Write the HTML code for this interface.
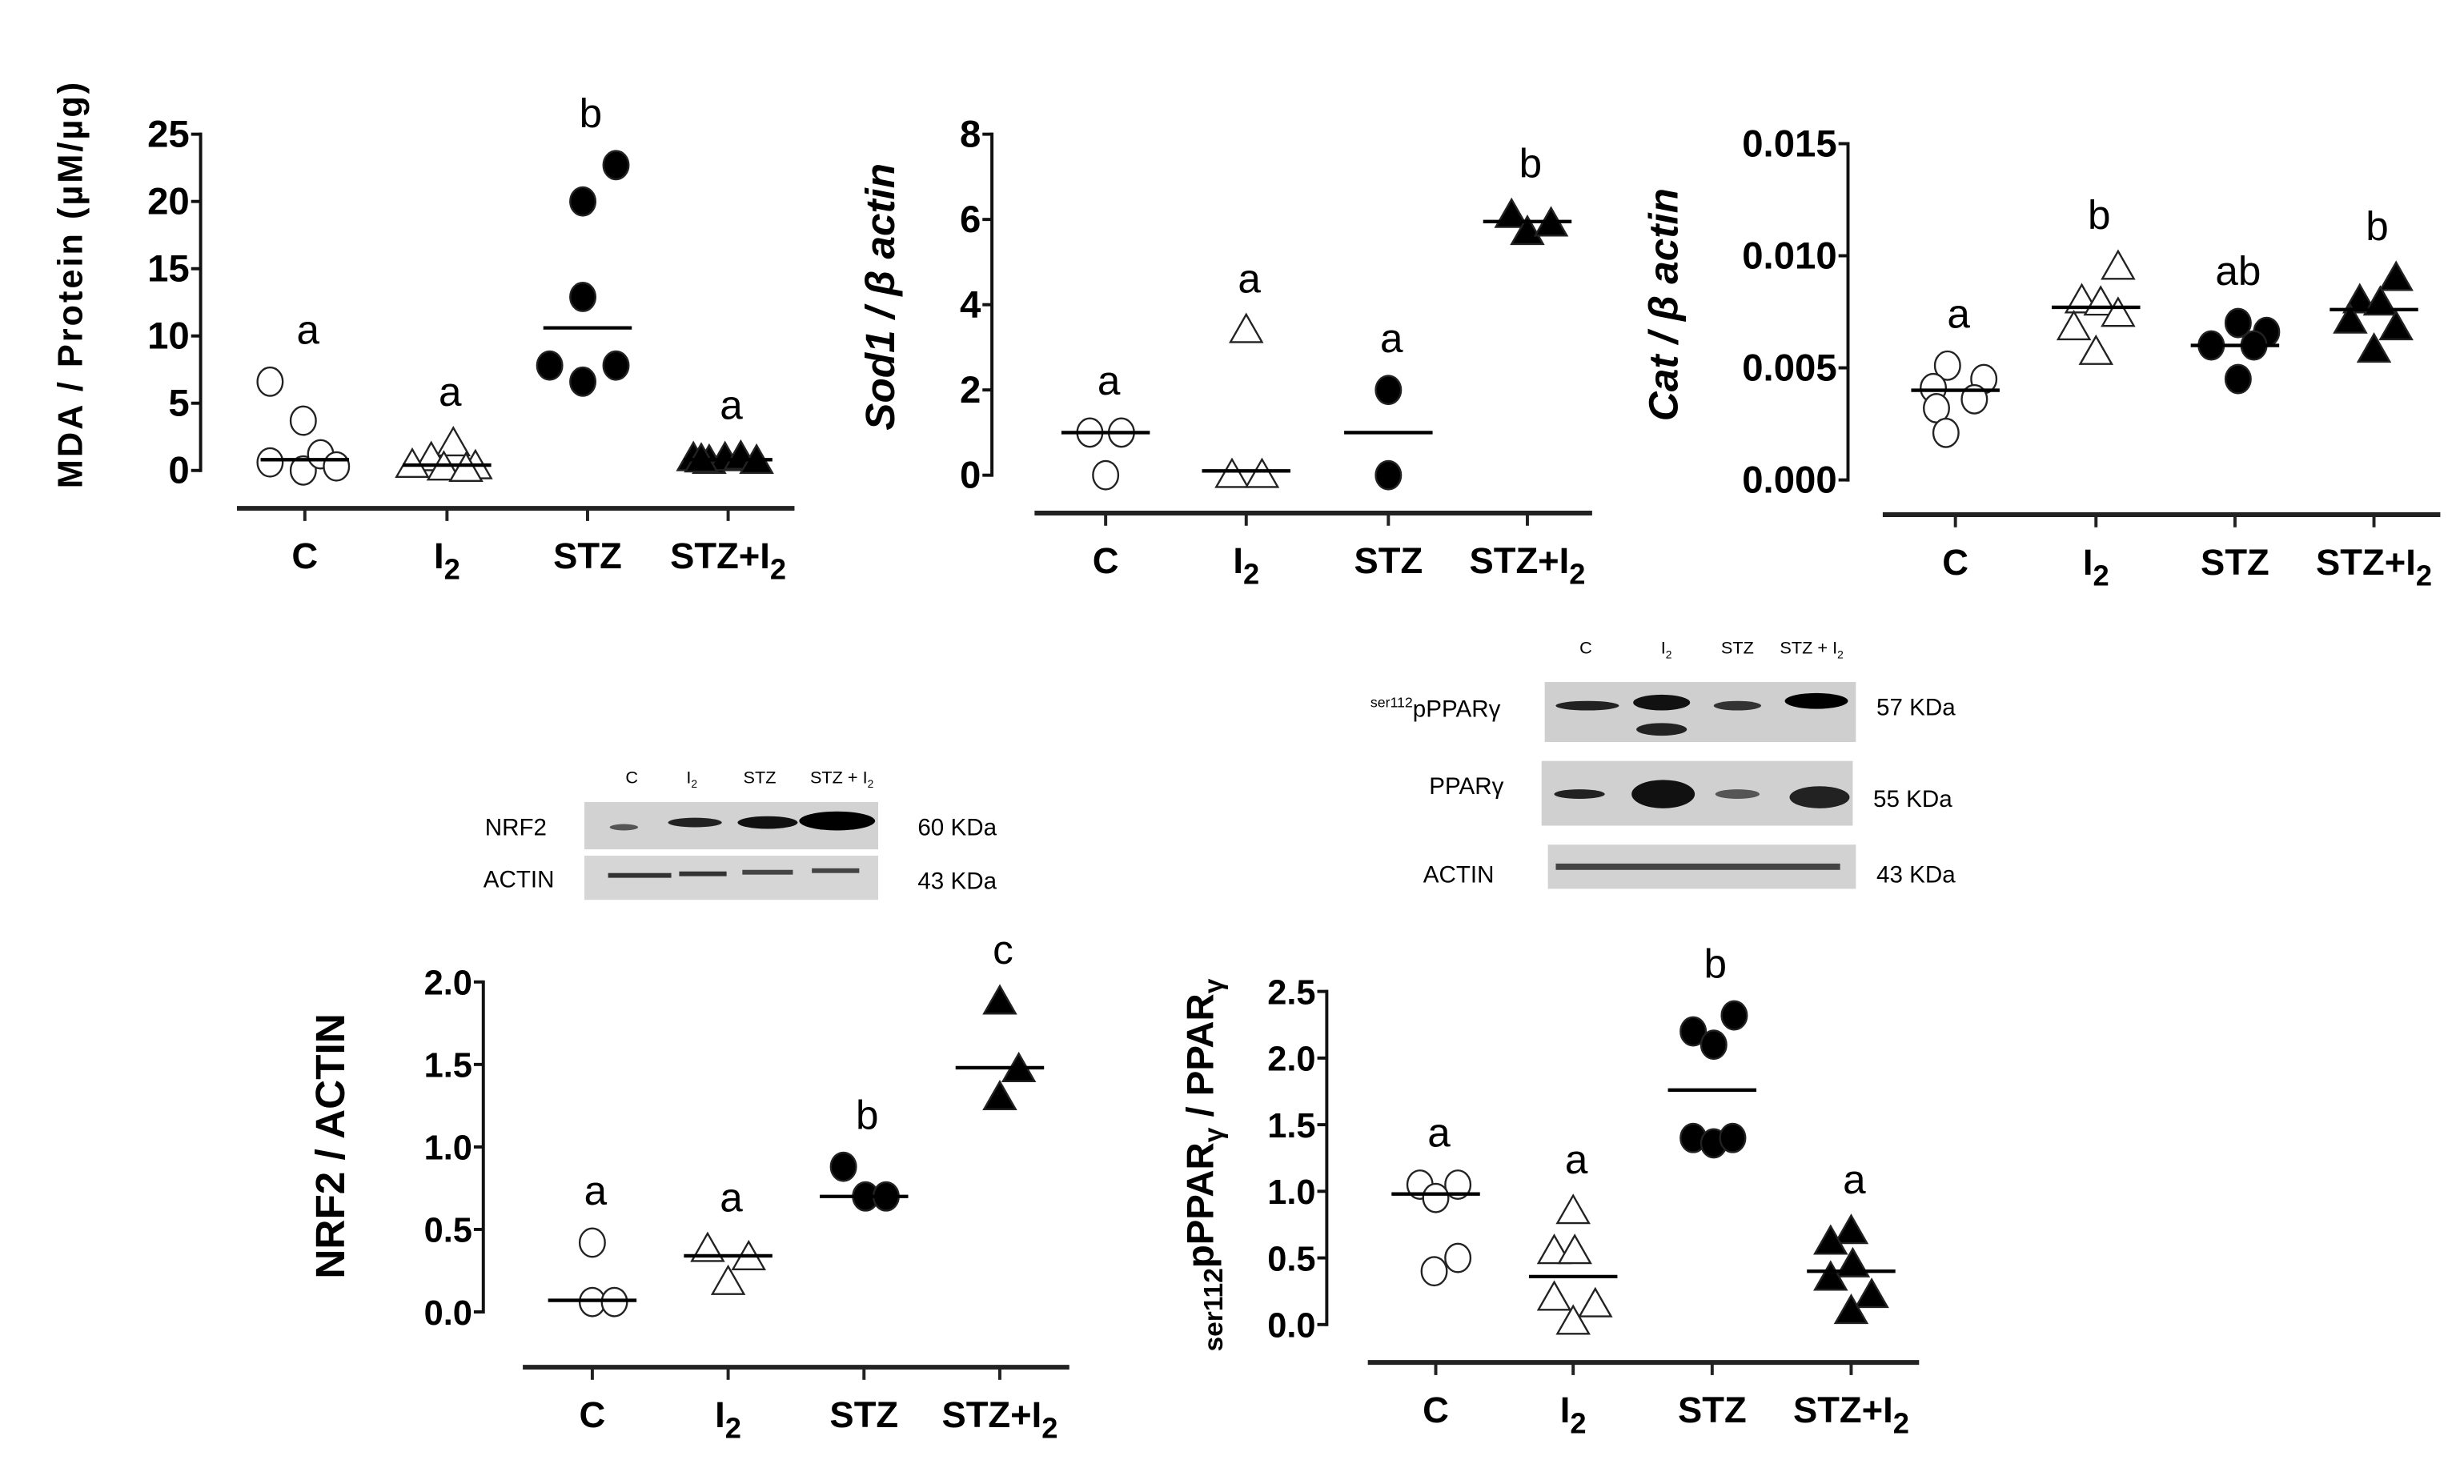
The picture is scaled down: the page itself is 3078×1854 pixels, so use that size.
<!DOCTYPE html>
<html><head><meta charset="utf-8">
<style>
html,body{margin:0;padding:0;background:#fff;}
svg{display:block;}
text{font-family:"Liberation Sans",sans-serif;}
.narrow{font-family:"Liberation Sans Narrow","Liberation Sans",sans-serif;}
</style></head>
<body>
<svg id="fig" width="3078" height="1854" viewBox="0 0 1560 940" preserveAspectRatio="none" xmlns="http://www.w3.org/2000/svg">
<g id="blots">
  <g>
    <text x="400" y="496" font-size="11" text-anchor="middle" class="narrow">C</text>
    <text x="438" y="496" font-size="11" text-anchor="middle" class="narrow">I<tspan font-size="7" dy="3">2</tspan></text>
    <text x="481" y="496" font-size="11" text-anchor="middle" class="narrow">STZ</text>
    <text x="533" y="496" font-size="11" text-anchor="middle" class="narrow">STZ + I<tspan font-size="7" dy="3">2</tspan></text>
    <rect x="370" y="508" width="186" height="30" fill="#d2d2d2"/>
    <ellipse cx="395" cy="524" rx="9" ry="2" fill="#555"/>
    <ellipse cx="440" cy="521" rx="17" ry="3" fill="#222"/>
    <ellipse cx="486" cy="521" rx="19" ry="4" fill="#111"/>
    <ellipse cx="530" cy="520" rx="24" ry="6" fill="#000"/>
    <rect x="370" y="542" width="186" height="28" fill="#d6d6d6"/>
    <rect x="385" y="553" width="40" height="3" fill="#333"/>
    <rect x="430" y="552" width="30" height="3" fill="#333"/>
    <rect x="470" y="551" width="32" height="3" fill="#444"/>
    <rect x="514" y="550" width="30" height="3" fill="#444"/>
    <text x="307" y="529" font-size="15" class="narrow">NRF2</text>
    <text x="306" y="562" font-size="15" class="narrow">ACTIN</text>
    <text x="581" y="529" font-size="15" class="narrow">60 KDa</text>
    <text x="581" y="563" font-size="15" class="narrow">43 KDa</text>
  </g>
  <g>
    <text x="1004" y="414" font-size="11" text-anchor="middle" class="narrow">C</text>
    <text x="1055" y="414" font-size="11" text-anchor="middle" class="narrow">I<tspan font-size="7" dy="3">2</tspan></text>
    <text x="1100" y="414" font-size="11" text-anchor="middle" class="narrow">STZ</text>
    <text x="1147" y="414" font-size="11" text-anchor="middle" class="narrow">STZ + I<tspan font-size="7" dy="3">2</tspan></text>
    <rect x="978" y="432" width="197" height="38" fill="#cfcfcf"/>
    <ellipse cx="1005" cy="447" rx="20" ry="3" fill="#222"/>
    <ellipse cx="1052" cy="445" rx="18" ry="5" fill="#111"/>
    <ellipse cx="1052" cy="462" rx="16" ry="4" fill="#222"/>
    <ellipse cx="1100" cy="447" rx="15" ry="3" fill="#333"/>
    <ellipse cx="1150" cy="444" rx="20" ry="5" fill="#000"/>
    <rect x="976" y="482" width="197" height="41" fill="#d0d0d0"/>
    <ellipse cx="1000" cy="503" rx="16" ry="3" fill="#222"/>
    <ellipse cx="1053" cy="503" rx="20" ry="9" fill="#111"/>
    <ellipse cx="1100" cy="503" rx="14" ry="3" fill="#555"/>
    <ellipse cx="1152" cy="505" rx="19" ry="7" fill="#222"/>
    <rect x="980" y="535" width="195" height="28" fill="#d2d2d2"/>
    <rect x="985" y="547" width="180" height="4" fill="#444"/>
    <text x="950" y="454" font-size="15" text-anchor="end" class="narrow"><tspan font-size="9" dy="-6">ser112</tspan><tspan dy="6">pPPARγ</tspan></text>
    <text x="952" y="503" font-size="15" text-anchor="end" class="narrow">PPARγ</text>
    <text x="946" y="559" font-size="15" text-anchor="end" class="narrow">ACTIN</text>
    <text x="1188" y="453" font-size="15" class="narrow">57 KDa</text>
    <text x="1186" y="511" font-size="15" class="narrow">55 KDa</text>
    <text x="1188" y="559" font-size="15" class="narrow">43 KDa</text>
  </g>
</g>
</svg>
<script>
const categories = ["C", "I2", "STZ", "STZ+I2"];
// MDA / Protein
const mdaValues = [[6.6, 3.7, 0.6, 0.0, 1.2, 0.3], [2.0, 0.9, 0.4, 0.3, 0.2, 0.1], [22.7, 20.0, 12.9, 7.8, 6.6, 7.8], [0.9, 0.7, 0.9, 1.0, 0.7, 0.8]];
const mdaMedians = [0.8, 0.4, 10.6, 0.8];
const mdaLetters = ["a", "a", "b", "a"];
const mdaTicks = [0, 5, 10, 15, 20, 25];
const mdaTickLabels = ["0", "5", "10", "15", "20", "25"];
// Sod1
const sodValues = [[1.0, 1.0, 0.0], [3.4, 0.0, 0.0], [2.0, 0.0], [6.1, 5.7, 5.9]];
const sodMedians = [1.0, 0.1, 1.0, 5.95];
const sodLetters = ["a", "a", "a", "b"];
const sodTicks = [0, 2, 4, 6, 8];
const sodTickLabels = ["0", "2", "4", "6", "8"];
// Cat
const catValues = [[0.0051, 0.0045, 0.0041, 0.0036, 0.0032, 0.0021], [0.0095, 0.0080, 0.0079, 0.0074, 0.0068, 0.0057], [0.0070, 0.0066, 0.0060, 0.0060, 0.0045], [0.0090, 0.0080, 0.0079, 0.0071, 0.0068, 0.0058]];
const catMedians = [0.0040, 0.0077, 0.0060, 0.0076];
const catLetters = ["a", "b", "ab", "b"];
const catTicks = [0, 0.005, 0.010, 0.015];
const catTickLabels = ["0.000", "0.005", "0.010", "0.015"];
// NRF2 / ACTIN
const nrfValues = [[0.42, 0.06, 0.06], [0.38, 0.33, 0.18], [0.88, 0.70, 0.70], [1.88, 1.47, 1.30]];
const nrfMedians = [0.07, 0.34, 0.70, 1.48];
const nrfLetters = ["a", "a", "b", "c"];
const nrfTicks = [0, 0.5, 1.0, 1.5, 2.0];
const nrfTickLabels = ["0.0", "0.5", "1.0", "1.5", "2.0"];
// pPPARg / PPARg
const pparValues = [[1.05, 1.05, 0.95, 0.50, 0.40], [0.85, 0.55, 0.55, 0.20, 0.15, 0.02], [2.32, 2.20, 2.10, 1.40, 1.36, 1.40], [0.70, 0.62, 0.45, 0.35, 0.22, 0.10]];
const pparMedians = [0.98, 0.36, 1.76, 0.40];
const pparLetters = ["a", "a", "b", "a"];
const pparTicks = [0, 0.5, 1.0, 1.5, 2.0, 2.5];
const pparTickLabels = ["0.0", "0.5", "1.0", "1.5", "2.0", "2.5"];

// layout (not data): jitter offsets, panels
const layout = {
  mda: {ax:127, y0:298, y1:85, v1:25, xs:[193,283,372,461], lineY:322, lx0:150, lx1:503, jit:[[-22,-1,-22,-1,10,20],[4,-10,-22,18,-2,12],[18,-3,-3,-24,-3,18],[-22,-12,-2,8,18,-17]], narrow:true, letterOff:24},
  sod: {ax:628, y0:301, y1:85, v1:8, xs:[700,789,879,967], lineY:325, lx0:655, lx1:1008, jit:[[-10,10,0],[0,-9,10],[0,0],[-10,0,15]], narrow:true, letterOff:24},
  cat: {ax:1170, y0:304, y1:91, v1:0.015, xs:[1238,1327,1415,1503], lineY:326, lx0:1192, lx1:1545, jit:[[-5,18,-14,12,-12,-6],[14,-9,3,14,-14,0],[2,20,-15,12,2],[14,-9,4,-15,14,0]], narrow:true, letterOff:24},
  nrf: {ax:306, y0:831, y1:622, v1:2.0, xs:[375,461,547,633], lineY:866, lx0:331, lx1:677, jit:[[0,0,14],[-13,13,0],[-13,1,14],[0,12,0]], narrow:false, letterOff:24},
  ppar: {ax:840, y0:839, y1:628, v1:2.5, xs:[909,996,1084,1172], lineY:863, lx0:866, lx1:1215, jit:[[-10,14,0,14,-1],[0,-12,1,-12,14,0],[14,-12,1,-12,1,13],[0,-13,1,-13,13,0]], narrow:false, letterOff:24}
};
const NS = "http://www.w3.org/2000/svg";
const svg = document.getElementById("fig");
function mk(tag, attrs, parent){ const e=document.createElementNS(NS,tag); for(const k in attrs) e.setAttribute(k,attrs[k]); parent.appendChild(e); return e; }
const shapes = ["open-circle","open-triangle","filled-circle","filled-triangle"];
function marker(g, shape, x, y){
  let e;
  if(shape.indexOf("circle")>=0){ e=mk("ellipse",{cx:x,cy:y,rx:8,ry:9,"stroke-width":1.2,stroke:"#222",fill:shape==="filled-circle"?"#000":"#fff"},g); }
  else { const s=10; e=mk("polygon",{points:`${x},${y-s} ${x-s},${y+s*0.75} ${x+s},${y+s*0.75}`,"stroke-width":1.2,stroke:"#222",fill:shape==="filled-triangle"?"#000":"#fff"},g); }
  return e;
}
function catLabel(g, x, y, name, size){
  const t = mk("text",{x:x,y:y,"font-size":size,"font-weight":"bold","text-anchor":"middle"},g);
  if(name.indexOf("I2")>=0){ t.textContent = name.replace("I2","I"); const s=document.createElementNS(NS,"tspan"); s.setAttribute("font-size",size*0.8); s.setAttribute("dy",size*0.3); s.textContent="2"; t.appendChild(s); }
  else t.textContent = name;
  return t;
}
function drawChart(id, L, values, medians, letters, ticks, tickLabels){
  const g = mk("g",{},svg);
  
  
  const yS = v => L.y0 + (L.y1 - L.y0) * v / L.v1;
  const fam = L.narrow ? '"Liberation Sans Narrow","Liberation Sans",sans-serif' : '"Liberation Sans",sans-serif';
  const ya = mk("line",{x1:L.ax,x2:L.ax,y1:yS(0)+1,y2:yS(ticks[ticks.length-1])-1,stroke:"#111","stroke-width":2},g);
  
  
  ticks.forEach((t,i)=>{
    const y=yS(t);
    mk("line",{x1:L.ax-6,x2:L.ax,y1:y,y2:y,stroke:"#111","stroke-width":2},g);
    const tl = mk("text",{x:L.ax-7,y:y+8,"font-size":L.narrow?24:22,"font-weight":"bold","text-anchor":"end","font-family":fam},g);
    tl.textContent = tickLabels[i];
    
    
  });
  const xl = mk("line",{x1:L.lx0,x2:L.lx1,y1:L.lineY,y2:L.lineY,stroke:"#222","stroke-width":3},g);
  
  
  categories.forEach((c,ci)=>{
    const cx = L.xs[ci];
    mk("line",{x1:cx,x2:cx,y1:L.lineY,y2:L.lineY+8,stroke:"#222","stroke-width":2},g);
    const lab = catLabel(g, cx, L.lineY+38, c, 23);
    lab.setAttribute("font-family", fam);
    
    
    values[ci].forEach((v,vi)=>{
      const m = marker(g, shapes[ci], cx + (L.jit[ci][vi]||0), yS(v));
      
      
    });
    const md = mk("line",{x1:cx-28,x2:cx+28,y1:yS(medians[ci]),y2:yS(medians[ci]),stroke:"#000","stroke-width":2.2},g);
    
    
    const top = Math.max(...values[ci], medians[ci]);
    const lt = mk("text",{x:cx+2,y:yS(top)-L.letterOff,"font-size":26,"text-anchor":"middle","font-family":fam},g);
    lt.textContent = letters[ci];
    
    
  });
  return g;
}
drawChart("mda", layout.mda, mdaValues, mdaMedians, mdaLetters, mdaTicks, mdaTickLabels);
drawChart("sod1", layout.sod, sodValues, sodMedians, sodLetters, sodTicks, sodTickLabels);
drawChart("cat", layout.cat, catValues, catMedians, catLetters, catTicks, catTickLabels);
drawChart("nrf2", layout.nrf, nrfValues, nrfMedians, nrfLetters, nrfTicks, nrfTickLabels);
drawChart("ppar", layout.ppar, pparValues, pparMedians, pparLetters, pparTicks, pparTickLabels);

// y-axis titles
function ytitle(x, y, html, size, italic, name){
  const t = mk("text",{x:0,y:0,"font-size":size,"font-weight":"bold","text-anchor":"middle",transform:`translate(${x},${y}) rotate(-90)`},svg);
  if(italic) t.setAttribute("font-style","italic");
  t.innerHTML = html;
  
  
  return t;
}
const mt = ytitle(52, 180, "MDA / Protein (µM/µg)", 22, false, "mda-y-axis-title");
mt.setAttribute("letter-spacing", "1.5");
ytitle(566, 188, "Sod1 / β actin", 26, true, "sod1-y-axis-title");
ytitle(1062, 193, "Cat / β actin", 26, true, "cat-y-axis-title");
ytitle(218, 726, "NRF2 / ACTIN", 26, false, "nrf2-y-axis-title");
ytitle(768, 738, '<tspan font-size="17" dy="6">ser112</tspan><tspan dy="-6">pPPAR</tspan><tspan font-size="17" dy="6">γ</tspan><tspan dy="-6"> / PPAR</tspan><tspan font-size="17" dy="6">γ</tspan>', 24, false, "ppar-y-axis-title");
</script>
</body></html>
